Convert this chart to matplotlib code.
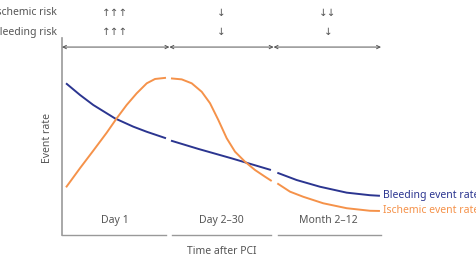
import matplotlib.pyplot as plt
import numpy as np

plt.rcParams['font.family'] = ['Noto Sans', 'DejaVu Sans']

# periods on a 0-3 time scale, event rate on a 0-1 scale
periods = ["Day 1", "Day 2\u201330", "Month 2\u201312"]
ischemic_risk = ["\u2191\u2191\u2191", "\u2193", "\u2193\u2193"]
bleeding_risk = ["\u2191\u2191\u2191", "\u2193", "\u2193"]

blue_x = [[0.038, 0.169, 0.294, 0.498, 0.670, 0.797, 0.978],
          [1.025, 1.282, 1.596, 1.721, 1.965],
          [2.025, 2.207, 2.426, 2.677, 2.896, 2.990]]
blue_y = [[0.770, 0.711, 0.660, 0.592, 0.550, 0.524, 0.491],
          [0.479, 0.437, 0.389, 0.369, 0.330],
          [0.316, 0.279, 0.245, 0.215, 0.202, 0.199]]

orange_x = [[0.038, 0.169, 0.294, 0.420, 0.514, 0.608, 0.702, 0.797, 0.875, 0.978],
            [1.025, 1.126, 1.220, 1.314, 1.392, 1.470, 1.549, 1.627, 1.721, 1.815, 1.909, 1.972],
            [2.025, 2.144, 2.269, 2.457, 2.677, 2.896, 2.990]]
orange_y = [[0.242, 0.339, 0.428, 0.519, 0.592, 0.660, 0.719, 0.770, 0.792, 0.798],
            [0.795, 0.790, 0.770, 0.727, 0.669, 0.584, 0.491, 0.423, 0.372, 0.330, 0.296, 0.274],
            [0.262, 0.220, 0.194, 0.161, 0.136, 0.123, 0.122]]

axis_segments = [(0.0, 0.978), (1.034, 1.965), (2.031, 3.0)]
arrow_segments = [(0.0, 1.01), (1.01, 1.99), (1.99, 3.0)]

BLUE = "#2b3590"
ORANGE = "#f5924a"
GREY = "#555555"

fig = plt.figure(figsize=(4.76, 2.54), dpi=100)
ax = fig.add_axes([62/476, 19/254, 319/476, 197/254])
ax.set_xlim(0, 3)
ax.set_ylim(0, 1)
ax.axis('off')

# curves
for xs, ys in zip(blue_x, blue_y):
    ax.plot(xs, ys, color=BLUE, lw=1.4, solid_capstyle='butt',
            solid_joinstyle='round', clip_on=False)
for xs, ys in zip(orange_x, orange_y):
    ax.plot(xs, ys, color=ORANGE, lw=1.4, solid_capstyle='butt',
            solid_joinstyle='round', clip_on=False)

# axes lines
ax.plot([0, 0], [0, 1], color="#999999", lw=1.2, clip_on=False)
for a, b in axis_segments:
    ax.plot([a, b], [0, 0], color="#999999", lw=1.0, clip_on=False)

# top timeline arrows
for a, b in arrow_segments:
    ax.annotate("", xy=(b, 0.954), xytext=(a, 0.954),
                arrowprops=dict(arrowstyle='<->', color=GREY, lw=0.7,
                                mutation_scale=6, shrinkA=0, shrinkB=0),
                annotation_clip=False)

ax.text(-0.047, 1.127, "Ischemic risk", ha='right', va='center', fontsize=7.5, color=GREY)
ax.text(-0.047, 1.030, "Bleeding risk", ha='right', va='center', fontsize=7.5, color=GREY)
for i, (p, ir, br) in enumerate(zip(periods, ischemic_risk, bleeding_risk)):
    ax.text(i + 0.5, 1.127, ir, ha='center', va='center', fontsize=7.5, color=GREY,
            family='DejaVu Sans')
    ax.text(i + 0.5, 1.030, br, ha='center', va='center', fontsize=7.5, color=GREY,
            family='DejaVu Sans')
    ax.text(i + 0.5, 0.076, p, ha='center', va='center', fontsize=7.5, color=GREY)

ax.text(-0.141, 0.49, "Event rate", rotation=90, ha='center', va='center',
        fontsize=7.5, color=GREY)
ax.text(1.5, -0.055, "Time after PCI", ha='center', va='top', fontsize=7.5, color=GREY)

ax.text(3.02, 0.203, "Bleeding event rate", ha='left', va='center', fontsize=7.5, color=BLUE)
ax.text(3.02, 0.122, "Ischemic event rate", ha='left', va='center', fontsize=7.5, color=ORANGE)

fig.savefig("out.png", dpi=100)
